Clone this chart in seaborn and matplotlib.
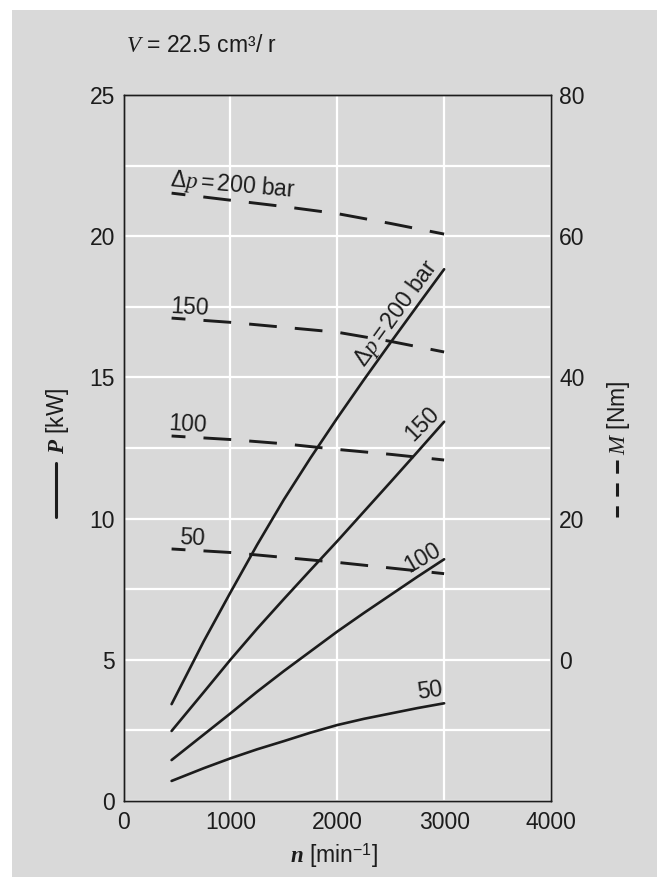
import pandas as pd
import seaborn as sns
from matplotlib import pyplot as plt
from matplotlib.lines import Line2D
from matplotlib.patches import Rectangle
from matplotlib.ticker import MultipleLocator

# speed n [min^-1] where the power curves were read
rpm_power = [450, 750, 1000, 1250, 1500, 1750, 2000, 2250, 2500, 2750, 3000]
# power P [kW] for each pressure difference
power_50 = [0.71, 1.16, 1.51, 1.83, 2.12, 2.42, 2.69, 2.91, 3.10, 3.29, 3.46]
power_100 = [1.45, 2.35, 3.10, 3.87, 4.60, 5.30, 6.00, 6.66, 7.30, 7.94, 8.56]
power_150 = [2.48, 3.85, 5.00, 6.10, 7.15, 8.18, 9.20, 10.25, 11.30, 12.36, 13.43]
power_200 = [3.43, 5.65, 7.38, 9.07, 10.67, 12.15, 13.56, 14.92, 16.24, 17.54, 18.83]

# speed where the torque curves were read
rpm_torque = [450, 1000, 1500, 2000, 2500, 3000]
# torque M [Nm] for each pressure difference
torque_50 = [15.7, 15.2, 14.5, 13.8, 13.0, 12.2]
torque_100 = [31.7, 31.2, 30.6, 29.8, 29.1, 28.3]
torque_150 = [48.4, 47.8, 47.1, 46.4, 45.1, 43.6]
torque_200 = [66.1, 65.1, 64.2, 63.2, 61.8, 60.3]

pressures = [50, 100, 150, 200]
x_ticks = [0, 1000, 2000, 3000, 4000]
p_ticks = [0, 5, 10, 15, 20, 25]
m_ticks = [0, 20, 40, 60, 80]

GREY = "#d9d9d9"
INK = "#1c1c1c"

sns.set_theme(style="white")
plt.rcParams["font.family"] = ["Liberation Sans", "DejaVu Sans"]
plt.rcParams["mathtext.fontset"] = "custom"
plt.rcParams["mathtext.rm"] = "Liberation Sans"
plt.rcParams["mathtext.it"] = "Liberation Serif:italic"
plt.rcParams["mathtext.bf"] = "Liberation Sans:bold"
plt.rcParams["mathtext.bfit"] = "Liberation Serif:italic:bold"
plt.rcParams["lines.scale_dashes"] = False
plt.rcParams["text.color"] = INK

fig = plt.figure(figsize=(6.65, 8.77), dpi=100, facecolor="white")
W, H = 665, 877
fig.patches.append(Rectangle((12 / W, 0), (657 - 12) / W, (H - 10) / H,
                             transform=fig.transFigure, facecolor=GREY,
                             edgecolor="none", zorder=-10))

ax = fig.add_axes([123.5 / W, (H - 801) / H, (551 - 123.5) / W, (801 - 95) / H])
ax.set_facecolor(GREY)
ax2 = ax.twinx()

n_p = len(rpm_power)
n_t = len(rpm_torque)
power = pd.DataFrame({"n": rpm_power * 4,
                      "P": power_50 + power_100 + power_150 + power_200,
                      "dp": sum([[p] * n_p for p in pressures], [])})
torque = pd.DataFrame({"n": rpm_torque * 4,
                       "M": torque_50 + torque_100 + torque_150 + torque_200,
                       "dp": sum([[p] * n_t for p in pressures], [])})

for p in pressures:
    sns.lineplot(data=power[power.dp == p], x="n", y="P", ax=ax,
                 color=INK, lw=1.9, zorder=3)
    sns.lineplot(data=torque[torque.dp == p], x="n", y="M", ax=ax2,
                 color=INK, lw=2.1, linestyle=(10, (20, 13)), zorder=3)

ax.set_xlim(0, 4000)
ax.set_ylim(0, 25)
ax2.set_ylim(-20, 80)
ax.set_xticks(x_ticks)
ax.set_yticks(p_ticks)
ax.yaxis.set_minor_locator(MultipleLocator(2.5))
ax2.set_yticks(m_ticks)

fs = 16.5
ax.set_axisbelow(True)
ax.grid(True, which="both", color="white", lw=1.6)
ax2.grid(False)
ax.tick_params(axis="both", which="both", length=0, labelsize=fs,
               colors=INK)
ax.tick_params(axis="y", pad=6)
ax.tick_params(axis="x", pad=7)
ax2.tick_params(axis="y", length=0, labelsize=fs, pad=6, colors=INK)
ax.set_xlabel("")
ax.set_ylabel("")
ax2.set_ylabel("")
for a in (ax, ax2):
    for s in a.spines.values():
        s.set_visible(True)
        s.set_color(INK)
        s.set_linewidth(1.0)

# solid power curve labels
ax.text(2546, 17.27, r"$\Delta p=$200 bar", rotation=54, rotation_mode="anchor",
        ha="center", va="center", fontsize=fs)
ax.text(2790, 13.34, "150", rotation=45, rotation_mode="anchor",
        ha="center", va="center", fontsize=fs)
ax.text(2796, 8.60, "100", rotation=30, rotation_mode="anchor",
        ha="center", va="center", fontsize=fs)
ax.text(2870, 3.92, "50", rotation=8, rotation_mode="anchor",
        ha="center", va="center", fontsize=fs)

# dashed torque curve labels
ax.text(436, 21.78, r"$\Delta p=$200 bar", rotation=-5, rotation_mode="anchor",
        ha="left", va="baseline", fontsize=fs)
ax.text(436, 17.27, "150", rotation=-3, rotation_mode="anchor",
        ha="left", va="baseline", fontsize=fs)
ax.text(419, 13.13, "100", rotation=-3, rotation_mode="anchor",
        ha="left", va="baseline", fontsize=fs)
ax.text(522, 9.09, "50", rotation=-3, rotation_mode="anchor",
        ha="left", va="baseline", fontsize=fs)

# title and axis labels
fig.text(126 / W, 1 - 52 / H, r"$V$ = 22.5 cm³/ r", ha="left", va="baseline",
         fontsize=fs)
fig.text(334 / W, 1 - 856 / H, r"$\mathbfit{n}$ [min$^{-1}$]", ha="center",
         va="center", fontsize=fs)
fig.text(57.5 / W, 1 - 454 / H, r"$\mathbfit{P}$ [kW]", rotation=90,
         ha="center", va="bottom", fontsize=fs)
fig.text(618 / W, 1 - 455 / H, r"$M$ [Nm]", rotation=90,
         ha="center", va="bottom", fontsize=fs)

# line-style keys next to the axis labels
fig.add_artist(Line2D([56 / W, 56 / W], [1 - 463 / H, 1 - 517 / H],
                      transform=fig.transFigure, color=INK, lw=2.2))
fig.add_artist(Line2D([617 / W, 617 / W], [1 - 460 / H, 1 - 517 / H],
                      transform=fig.transFigure, color=INK, lw=2.2,
                      linestyle=(0, (9.5, 7))))

fig.savefig("out.png", dpi=100, facecolor=fig.get_facecolor())
